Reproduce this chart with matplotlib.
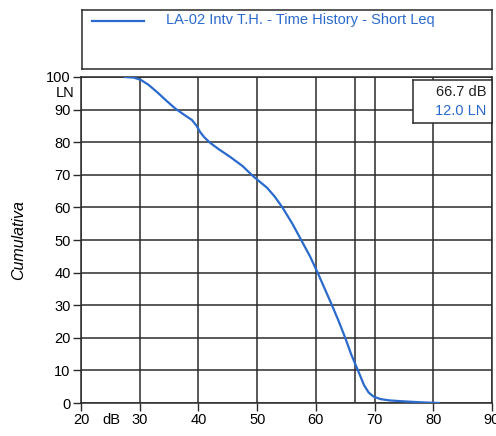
import matplotlib
matplotlib.use("Agg")
import matplotlib.pyplot as plt
from matplotlib.lines import Line2D

plt.rcParams['font.family'] = ['Liberation Sans', 'DejaVu Sans']

# Data
level_db = [27.5, 29.0, 30.2, 31.5, 33.0, 34.5, 36.0, 37.5, 38.9, 39.7, 40.3, 41.0, 42.0,
            43.5, 45.4, 47.5, 49.3, 50.5, 51.7, 53.0, 54.3, 56.0, 57.5, 59.0, 60.3, 61.4,
            62.5, 63.8, 65.0, 66.0, 66.7, 67.4, 68.2, 69.0, 69.8, 71.0, 72.5, 75.0, 78.0, 81.0]
cumulative = [100, 99.8, 99.1, 97.6, 95.3, 92.8, 90.4, 88.5, 86.8, 85.0, 83.1, 81.5, 79.8,
              77.8, 75.5, 72.7, 69.6, 67.8, 66.0, 63.3, 60.0, 55.0, 50.0, 45.0, 40.0, 35.5,
              31.0, 25.5, 20.0, 15.0, 12.0, 9.0, 5.5, 3.2, 2.0, 1.2, 0.8, 0.5, 0.2, 0.0]
x_ticks = [20, 30, 40, 50, 60, 70, 80, 90]
y_ticks = [0, 10, 20, 30, 40, 50, 60, 70, 80, 90, 100]
marker_db = 66.7
marker_ln = 12.0
series_label = "LA-02 Intv T.H. - Time History - Short Leq"

W, H = 496, 436
fig = plt.figure(figsize=(W / 100, H / 100), dpi=100)

def fx(px):
    return px / W

def fy(py):
    return 1 - py / H

blue = '#2a6acc'
gridc = '#2b2b2b'
fs = 10.5

ax = fig.add_axes([fx(81), fy(403), fx(492) - fx(81), fy(77) - fy(403)])
ax.set_xlim(20, 90)
ax.set_ylim(0, 100)
ax.set_xticks(x_ticks)
ax.set_yticks(y_ticks)
ax.set_xticklabels([str(v) for v in x_ticks], fontsize=fs)
ax.set_yticklabels([str(v) for v in y_ticks], fontsize=fs)
ax.tick_params(direction='out', length=6, width=1.0, color=gridc, pad=1.5)
ax.grid(True, color=gridc, linewidth=1.1)
ax.axvline(marker_db, color=gridc, linewidth=1.1)
for s in ax.spines.values():
    s.set_color(gridc)
    s.set_linewidth(1.1)
ax.plot(level_db, cumulative, color=blue, linewidth=1.6, zorder=3)
ax.set_ylabel('Cumulativa', fontsize=11.5, style='italic', labelpad=14)

# LN and dB labels
ax.text(-0.017, 0.952, 'LN', transform=ax.transAxes, ha='right', va='center', fontsize=fs)
ax.text(0.073, -0.0295, 'dB', transform=ax.transAxes, ha='center', va='top', fontsize=fs)

# annotation box
bx = fig.add_axes([fx(413), fy(123), fx(492) - fx(413), fy(80) - fy(123)])
bx.set_xticks([]); bx.set_yticks([])
for s in bx.spines.values():
    s.set_color(gridc); s.set_linewidth(1.1)
bx.text(0.93, 0.72, f'{marker_db:.1f} dB', transform=bx.transAxes, ha='right', va='center',
        fontsize=fs, color='#222222')
bx.text(0.93, 0.28, f'{marker_ln:.1f} LN', transform=bx.transAxes, ha='right', va='center',
        fontsize=fs, color=blue)

# legend box
lx = fig.add_axes([fx(82), fy(69), fx(492) - fx(82), fy(10) - fy(69)])
lx.set_xticks([]); lx.set_yticks([])
lx.set_xlim(0, 1); lx.set_ylim(0, 1)
for s in lx.spines.values():
    s.set_color(gridc); s.set_linewidth(1.1)
lx.add_line(Line2D([0.025, 0.15], [0.82, 0.82], color=blue, linewidth=1.6))
lx.text(0.205, 0.83, series_label, ha='left', va='center', fontsize=fs, color=blue)

fig.savefig('out.png', dpi=100)
